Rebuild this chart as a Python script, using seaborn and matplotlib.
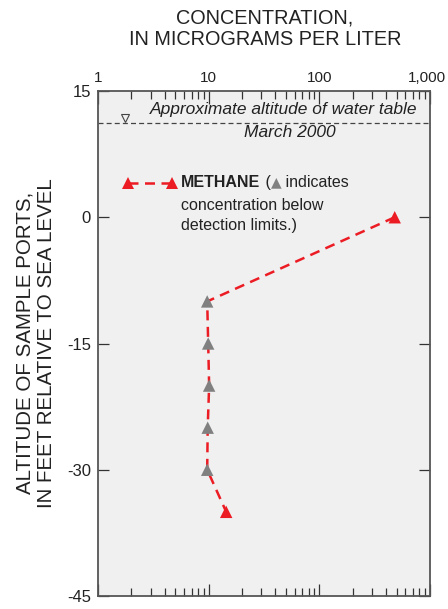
import matplotlib
matplotlib.use("Agg")
import matplotlib.pyplot as plt
import matplotlib.transforms as mtransforms
import seaborn as sns
import pandas as pd
from matplotlib.ticker import NullFormatter, LogLocator

# ---- data ----
concentration = [480, 9.7, 9.9, 10.1, 9.8, 9.7, 14.4]
altitude = [0, -10, -15, -20, -25, -30, -35]
status = ["detected", "below", "below", "below", "below", "below", "detected"]

x_ticks = [1, 10, 100, 1000]
x_tick_labels = ["1", "10", "100", "1,000"]
y_ticks = [15, 0, -15, -30, -45]
y_tick_labels = ["15", "0", "-15", "-30", "-45"]

water_table_alt = 11.2
water_table_marker_x = 1.75

RED = "#ec1c24"
GRAY = "#808080"
BG = "#f0f0f0"
TXT = "#222222"

sns.set_theme(style="white")
plt.rcParams["font.family"] = ["Liberation Sans", "DejaVu Sans"]
plt.rcParams["axes.unicode_minus"] = False

df = pd.DataFrame({"conc": concentration, "alt": altitude, "status": status})

fig = plt.figure(figsize=(4.48, 6.09), dpi=100)
L, R, T, B = 98, 430, 91, 596
ax = fig.add_axes([L / 448, 1 - B / 609, (R - L) / 448, (B - T) / 609])
ax.set_facecolor(BG)

sns.lineplot(data=df, x="conc", y="alt", sort=False, estimator=None,
             color=RED, linewidth=1.8, linestyle="--", ax=ax, zorder=2)
for ln in ax.lines:
    ln.set_dashes([4, 2.6])
sns.scatterplot(data=df, x="conc", y="alt", hue="status",
                palette={"detected": RED, "below": GRAY}, marker="^",
                s=80, linewidth=0, ax=ax, legend=False, zorder=3)

ax.set_xscale("log")
ax.set_xlim(1, 1000)
ax.set_ylim(-45, 15)
ax.set_xlabel("")
ax.set_ylabel("")

# water table
ax.axhline(water_table_alt, color="#444444", linewidth=0.9, linestyle=(0, (4, 2.5)), zorder=1)
ax.plot([water_table_marker_x], [water_table_alt + 0.55], marker="v", markersize=6,
        markerfacecolor="none", markeredgecolor="#444444", markeredgewidth=0.8, linestyle="none")
ax.text(0.56, 0.964, "Approximate altitude of water table", transform=ax.transAxes,
        ha="center", va="center", fontsize=12.5, style="italic", color=TXT)
ax.text(0.578, 0.917, "March 2000", transform=ax.transAxes,
        ha="center", va="center", fontsize=12.5, style="italic", color=TXT)

# axes ticks
ax.xaxis.set_ticks_position("top")
ax.set_xticks(x_ticks)
ax.set_xticklabels(x_tick_labels, fontsize=11, color=TXT)
ax.xaxis.set_minor_locator(LogLocator(base=10, subs=range(2, 10)))
ax.xaxis.set_minor_formatter(NullFormatter())
ax.set_yticks(y_ticks)
ax.set_yticklabels(y_tick_labels, fontsize=12, color=TXT)
ax.tick_params(axis="x", which="major", direction="in", length=9, width=0.9, color="#333333", pad=4,
               top=True, bottom=True, labeltop=True, labelbottom=False)
ax.tick_params(axis="x", which="minor", direction="in", length=6, width=0.9, color="#333333",
               top=True, bottom=True)
ax.tick_params(axis="y", which="major", direction="in", length=8, width=0.9, color="#333333",
               left=True, right=True, pad=5)
last = ax.get_xticklabels()[-1]
last.set_transform(last.get_transform() + mtransforms.ScaledTranslation(-3 / 100, 0, fig.dpi_scale_trans))

for sp in ax.spines.values():
    sp.set_color("#555555")
    sp.set_linewidth(1.3)
    sp.set_visible(True)

fig.text(265 / 448, 1 - 29 / 609, "CONCENTRATION,\nIN MICROGRAMS PER LITER", fontsize=14.3,
         color=TXT, ha="center", va="center", linespacing=1.15)
fig.text(35.5 / 448, 1 - 343 / 609, "ALTITUDE OF SAMPLE PORTS,\nIN FEET RELATIVE TO SEA LEVEL",
         fontsize=14.8, color=TXT, ha="center", va="center", rotation=90, linespacing=1.15)

# legend
ax.plot([0.090, 0.222], [0.818, 0.818], transform=ax.transAxes, color=RED, linewidth=1.8,
        dashes=[4, 2.6], marker="^", markersize=9, markeredgewidth=0, clip_on=False)
fs = 11.5
t1 = ax.text(0.251, 0.818, "METHANE", transform=ax.transAxes, fontsize=fs, weight="bold",
             va="center", ha="left", color=TXT)
t2 = ax.annotate(" (", xy=(1, 0), xycoords=t1, va="bottom", ha="left", fontsize=fs,
                 color=TXT)
t3 = ax.annotate("▲", xy=(1, 0.1), xycoords=t2, va="bottom", ha="left", fontsize=10,
                 family=["DejaVu Sans"], color=GRAY)
t4 = ax.annotate(" indicates", xy=(1, 0), xycoords=(t3, t2), va="bottom", ha="left", fontsize=fs,
                 color=TXT)
ax.text(0.251, 0.774, "concentration below", transform=ax.transAxes, fontsize=fs,
        va="center", ha="left", color=TXT)
ax.text(0.251, 0.734, "detection limits.)", transform=ax.transAxes, fontsize=fs,
        va="center", ha="left", color=TXT)

fig.savefig("out.png", dpi=100, facecolor="white")
